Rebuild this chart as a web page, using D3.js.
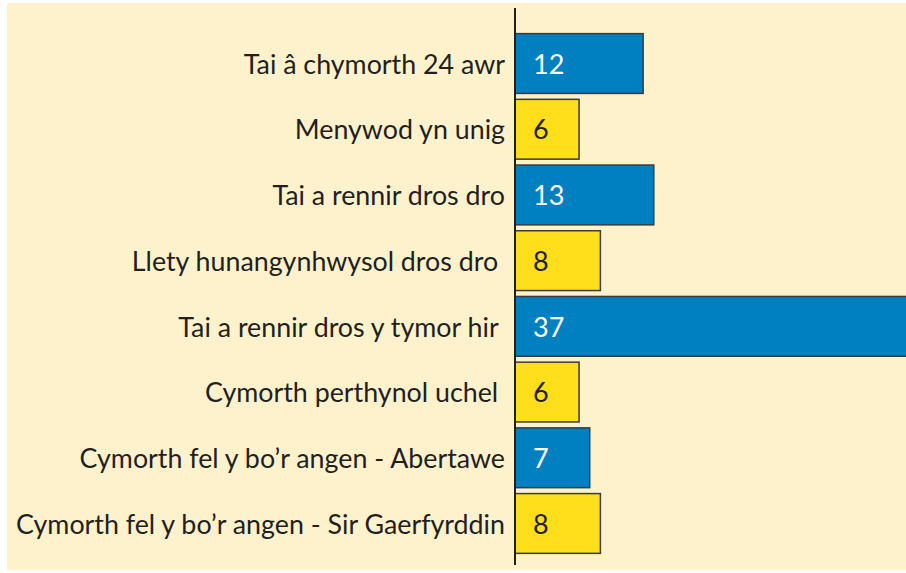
<!DOCTYPE html>
<html>
<head>
<meta charset="utf-8">
<script src="https://cdn.jsdelivr.net/npm/d3@7"></script>
<style>
  body { margin: 0; background: #ffffff; }
  text { font-family: Lato, "Open Sans", sans-serif; white-space: pre; }
</style>
</head>
<body>
<script>
var w = 906
var h = 573

var categories = [
  "Tai â chymorth 24 awr",
  "Menywod yn unig",
  "Tai a rennir dros dro",
  "Llety hunangynhwysol dros dro ",
  "Tai a rennir dros y tymor hir ",
  "Cymorth perthynol uchel ",
  "Cymorth fel y bo’r angen - Abertawe",
  "Cymorth fel y bo’r angen - Sir Gaerfyrddin"
];
var values = [12, 6, 13, 8, 37, 6, 7, 8];

//              Blue       Yellow
var colors = [ "#0080c1", "#ffde1b" ];
var textColors = [ "#ffffff", "#231f20" ];

var svg = d3.select("body").append("svg")
    .attr("width", w)
    .attr("height", h)

// panel
svg.append("rect")
    .attr("x", 7)
    .attr("y", 3)
    .attr("width", w - 7)
    .attr("height", 567)
    .attr("fill", "#fef2cd")

var x0 = 515

var x = d3.scaleLinear()
    .domain([0, 37])
    .range([x0, x0 + 395])

var y = d3.scaleBand()
    .domain(categories)
    .range([31, 556])
    .paddingInner(0.09)
    .paddingOuter(0.04)

var g = svg.selectAll(".bar").data(values).enter()
    .append("g")
      .attr("class", "bar")

g.append("rect")
    .attr("x", x(0))
    .attr("y", function(d, i) { return y(categories[i]); })
    .attr("width", function(d) { return x(d) - x(0); })
    .attr("height", y.bandwidth())
    .attr("fill", function(d, i) { return colors[i % 2]; })
    .attr("stroke", "#3a3a3a")
    .attr("stroke-width", 1.5)

g.append("text")
    .attr("x", x(0) + 18)
    .attr("y", function(d, i) { return y(categories[i]) + y.bandwidth() / 2; })
    .attr("dy", "0.38em")
    .style("fill", function(d, i) { return textColors[i % 2]; })
    .style("font-size", "27px")
    .text(function(d) { return d; })

// category labels
svg.selectAll(".label").data(categories).enter()
  .append("text")
    .attr("class", "label")
    .attr("x", x0 - 10)
    .attr("y", function(d) { return y(d) + y.bandwidth() / 2; })
    .attr("dy", "0.38em")
    .attr("text-anchor", "end")
    .style("fill", "#231f20")
    .style("font-size", "26.8px")
    .text(function(d) { return d; })

// axis line
svg.append("line")
    .attr("x1", x0)
    .attr("x2", x0)
    .attr("y1", 8)
    .attr("y2", 565)
    .attr("stroke", "#231f20")
    .attr("stroke-width", 2)
</script>
</body>
</html>
